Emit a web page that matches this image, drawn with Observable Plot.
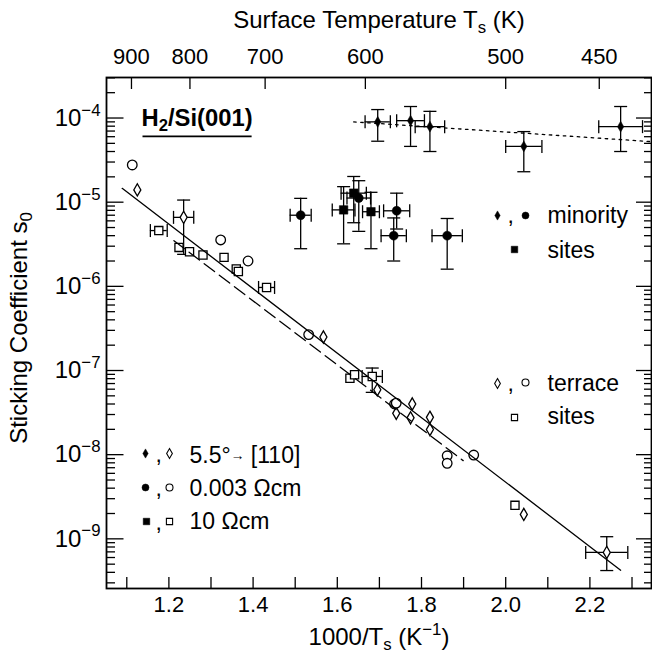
<!DOCTYPE html>
<html><head><meta charset="utf-8">
<script src="https://cdn.jsdelivr.net/npm/d3@7"></script>
<script src="https://cdn.jsdelivr.net/npm/@observablehq/plot@0.6"></script>
<style>html,body{margin:0;padding:0;background:#fff;} svg{display:block}</style>
</head><body><div id="chart"></div>
<script>
// ---------- DATA ----------
// axis ticks
const tempTicks = [900, 800, 700, 600, 500, 450];          // top axis (K)
const xLabelTicks = [1.2, 1.4, 1.6, 1.8, 2.0, 2.2];         // bottom labels
const xMinorTicks = [1.1, 1.2, 1.3, 1.4, 1.5, 1.6, 1.7, 1.8, 1.9, 2.0, 2.1, 2.2, 2.3];
const yMajorTicks = [1e-9, 1e-8, 1e-7, 1e-6, 1e-5, 1e-4];
const xDomain = [1.0518, 2.3463];
const yDomain = [2.57e-10, 3.03e-4];

// minority sites, 5.5° -> [110] (filled diamonds)
const mdX = [1.696, 1.774, 1.820, 2.043, 2.273];
const mdY = [9.0e-5, 9.3e-5, 7.9e-5, 4.6e-5, 7.9e-5];
const mdLo = [5.3e-5, 4.6e-5, 4.0e-5, 2.3e-5, 4.0e-5];
const mdHi = [1.26e-4, 1.37e-4, 1.2e-4, 6.9e-5, 1.37e-4];
const mdXe = [0.030, 0.033, 0.035, 0.043, 0.052];

// minority sites, 0.003 Ωcm (filled circles)
const mcX = [1.513, 1.651, 1.741, 1.734, 1.861];
const mcY = [7.0e-6, 1.12e-5, 7.9e-6, 4.0e-6, 4.0e-6];
const mcLo = [2.8e-6, 4.5e-6, 4.8e-6, 2.0e-6, 1.6e-6];
const mcHi = [1.11e-5, 1.8e-5, 1.28e-5, 6.5e-6, 6.4e-6];
const mcXe = [0.025, 0.028, 0.031, 0.030, 0.036];

// minority sites, 10 Ωcm (filled squares)
const msX = [1.615, 1.639, 1.680];
const msY = [8.1e-6, 1.28e-5, 7.7e-6];
const msLo = [3.2e-6, 5.7e-6, 2.8e-6];
const msHi = [1.53e-5, 2.02e-5, 1.31e-5];
const msXe = [0.027, 0.030, 0.020];

// terrace sites, 5.5° -> [110] (open diamonds)
const tdX = [1.125, 1.235, 1.567, 1.695, 1.740, 1.778, 1.774, 1.820, 1.820, 2.043, 2.240];
const tdY = [1.4e-5, 6.6e-6, 2.5e-7, 5.9e-8, 3.1e-8, 4.0e-8, 2.74e-8, 2.78e-8, 1.99e-8, 1.95e-9, 6.9e-10];
const tdLo = [null, 2.4e-6, null, null, null, null, null, null, null, null, 4.2e-10];
const tdHi = [null, 1.06e-5, null, null, null, null, null, null, null, null, 1.06e-9];
const tdXe = [null, 0.024, null, null, null, null, null, null, null, null, 0.050];

// terrace sites, 0.003 Ωcm (open circles)
const tcX = [1.113, 1.323, 1.388, 1.532, 1.736, 1.740, 1.861, 1.861, 1.924];
const tcY = [2.77e-5, 3.56e-6, 2.0e-6, 2.67e-7, 4.0e-8, 4.1e-8, 9.7e-9, 7.9e-9, 9.9e-9];

// terrace sites, 10 Ωcm (open squares)
const tsX = [1.176, 1.224, 1.249, 1.281, 1.331, 1.360, 1.365, 1.432, 1.630, 1.641, 1.683, 2.022];
const tsY = [4.6e-6, 2.9e-6, 2.58e-6, 2.36e-6, 2.21e-6, 1.61e-6, 1.5e-6, 9.7e-7, 8.1e-8, 8.9e-8, 8.5e-8, 2.5e-9];
const tsLo = [null, null, null, null, null, null, null, null, null, null, 5.5e-8, null];
const tsHi = [null, null, null, null, null, null, null, null, null, null, 1.07e-7, null];
const tsXe = [0.020, null, null, null, null, null, null, 0.019, null, null, 0.024, null];

// fit lines (end points)
const solidX = [1.089, 2.273], solidY = [1.46e-5, 4.24e-10];
const dashX = [1.212, 1.899], dashY = [3.49e-6, 8.5e-9];
const dotX = [1.639, 2.3463], dotY = [9.0e-5, 5.24e-5];

// texts
const topTitle = "Surface Temperature T_{s} (K)";
const xTitle = "1000/T_{s} (K^{−1})";
const yTitle = "Sticking Coefficient s_{0}";
const systemLabel = "H_{2}/Si(001)";

// ---------- FONT ----------
const FF = "'Liberation Sans', Arial, sans-serif";

// ---------- BUILD ----------
const W = 652, H = 657, mT = 77, mB = 69, mL = 106, mR = 1;
const innerW = W - mL - mR, innerH = H - mT - mB;

const pts = (X, Y) => X.map((x, i) => ({x, y: Y[i]}));
const errs = (X, Y, Lo, Hi, Xe) => X.map((x, i) => ({x, y: Y[i], lo: Lo[i], hi: Hi[i], xe: Xe[i]}));
const E = [
  ...errs(mdX, mdY, mdLo, mdHi, mdXe),
  ...errs(mcX, mcY, mcLo, mcHi, mcXe),
  ...errs(msX, msY, msLo, msHi, msXe),
  ...errs(tdX, tdY, tdLo, tdHi, tdXe),
  ...errs(tsX, tsY, tsLo, tsHi, tsXe)
];
const EV = E.filter(d => d.lo != null);
const EH = E.filter(d => d.xe != null);

const yMinorTicks = [];
for (let e = -10; e <= -4; e++) for (let m = 2; m <= 9; m++) {
  const v = m * Math.pow(10, e);
  if (v > yDomain[0] && v < yDomain[1]) yMinorTicks.push(v);
}

const capH = {draw(ctx, size) { const h = Math.sqrt(size / Math.PI); ctx.moveTo(-h, 0); ctx.lineTo(h, 0); }};
const capV = {draw(ctx, size) { const h = Math.sqrt(size / Math.PI); ctx.moveTo(0, -h); ctx.lineTo(0, h); }};

const SW = 1.3;
const ink = {stroke: "black", strokeWidth: SW};
const fsTick = 22, fsY = 24, fsTitle = 24, fsLeg = 23;

function legendSym(symbol, filled, r, dx, dy) {
  return Plot.dot([0], {frameAnchor: "top-left", dx, dy, symbol, r,
    fill: filled ? "black" : "none", stroke: "black", strokeWidth: filled ? 0.5 : 1.1});
}
function legendText(t, dx, dy, opts = {}) {
  return Plot.text([t], {frameAnchor: "top-left", dx, dy, textAnchor: "start", lineAnchor: "middle",
    fontSize: fsLeg, fill: "black", ...opts});
}

const chart = Plot.plot({
  width: W, height: H,
  marginTop: mT, marginBottom: mB, marginLeft: mL, marginRight: mR,
  style: {fontFamily: FF, color: "black", background: "white"},
  x: {type: "linear", domain: xDomain},
  y: {type: "log", domain: yDomain},
  marks: [
    // ticks (inward)
    Plot.tickX(xMinorTicks, {x: d => d, insetTop: innerH - 11, ...ink}),
    Plot.tickX(tempTicks.map(t => 1000 / t), {x: d => d, insetBottom: innerH - 12, ...ink}),
    Plot.tickY(yMajorTicks, {y: d => d, insetRight: innerW - 17.5, ...ink}),
    Plot.tickY(yMinorTicks, {y: d => d, insetRight: innerW - 9, ...ink}),
    Plot.tickY(yMajorTicks, {y: d => d, insetLeft: innerW - 15, ...ink}),
    Plot.tickY(yMinorTicks, {y: d => d, insetLeft: innerW - 7, ...ink}),
    Plot.frame({stroke: "black", strokeWidth: 1.8}),
    // axis labels
    Plot.axisX({anchor: "bottom", ticks: xLabelTicks, tickSize: 0, tickPadding: 8,
      tickFormat: d3.format(".1f"), label: null, fontSize: fsTick}),
    Plot.axisX({anchor: "top", ticks: tempTicks.map(t => 1000 / t), tickSize: 0, tickPadding: 14,
      tickFormat: v => String(Math.round(1000 / v)), label: null, fontSize: fsTick}),
    Plot.axisY({anchor: "left", ticks: yMajorTicks, tickSize: 0, tickPadding: 6,
      tickFormat: d => `10^{−${-Math.round(Math.log10(d))}}`, label: null, fontSize: fsY}),
    // titles
    Plot.text([topTitle], {frameAnchor: "top", dy: -57, lineAnchor: "middle", textAnchor: "middle", fontSize: fsTitle, fill: "black"}),
    Plot.text([xTitle], {frameAnchor: "bottom", dy: 49, lineAnchor: "middle", textAnchor: "middle", fontSize: fsTitle, fill: "black"}),
    Plot.text([yTitle], {frameAnchor: "left", dx: -87, dy: -5, rotate: -90, lineAnchor: "middle", textAnchor: "middle", fontSize: fsTitle, fill: "black"}),
    // error bars
    Plot.ruleX(EV, {x: "x", y1: "lo", y2: "hi", ...ink}),
    Plot.dot(EV, {x: "x", y: "lo", symbol: capH, r: 6.5, fill: "none", ...ink}),
    Plot.dot(EV, {x: "x", y: "hi", symbol: capH, r: 6.5, fill: "none", ...ink}),
    Plot.ruleY(EH, {y: "y", x1: d => d.x - d.xe, x2: d => d.x + d.xe, ...ink}),
    Plot.dot(EH, {x: d => d.x - d.xe, y: "y", symbol: capV, r: 6.5, fill: "none", ...ink}),
    Plot.dot(EH, {x: d => d.x + d.xe, y: "y", symbol: capV, r: 6.5, fill: "none", ...ink}),
    // open markers (terrace)
    Plot.dot(pts(tdX, tdY), {x: "x", y: "y", symbol: "diamond", r: 3.7, fill: "white", ...ink}),
    Plot.dot(pts(tcX, tcY), {x: "x", y: "y", symbol: "circle", r: 4.8, fill: "white", ...ink}),
    Plot.dot(pts(tsX, tsY), {x: "x", y: "y", symbol: "square", r: 4.6, fill: "white", ...ink}),
    // filled markers (minority)
    Plot.dot(pts(mdX, mdY), {x: "x", y: "y", symbol: "diamond", r: 3.3, fill: "black", stroke: "black", strokeWidth: 0.5}),
    Plot.dot(pts(mcX, mcY), {x: "x", y: "y", symbol: "circle", r: 4.5, fill: "black", stroke: "black", strokeWidth: 0.5}),
    Plot.dot(pts(msX, msY), {x: "x", y: "y", symbol: "square", r: 4.8, fill: "black", stroke: "black", strokeWidth: 0.5}),
    // fit lines
    Plot.line(pts(solidX, solidY), {x: "x", y: "y", ...ink}),
    Plot.line(pts(dashX, dashY), {x: "x", y: "y", strokeDasharray: "13,6", ...ink}),
    Plot.line(pts(dotX, dotY), {x: "x", y: "y", strokeDasharray: "2.5,4.5", ...ink}),
    // system label
    Plot.text([systemLabel], {frameAnchor: "top-left", dx: 35, dy: 41, textAnchor: "start", lineAnchor: "middle",
      fontSize: 23.8, fontWeight: "bold", fill: "black", className: "syslabel"}),
    // legend: minority sites
    legendSym("diamond", true, 2.8, 391, 138),
    legendText(",", 401, 138),
    legendSym("circle", true, 3.5, 419, 138),
    legendText("minority", 441, 138),
    legendSym("square", true, 3.7, 408, 172),
    legendText("sites", 441, 173),
    // legend: terrace sites
    legendSym("diamond", false, 3.0, 391, 306),
    legendText(",", 401, 306),
    legendSym("circle", false, 3.5, 419, 305),
    legendText("terrace", 441, 306),
    legendSym("square", false, 3.5, 408, 340),
    legendText("sites", 441, 339),
    // legend: samples
    legendSym("diamond", true, 2.8, 39, 376),
    legendText(",", 49, 377),
    legendSym("diamond", false, 3.0, 63, 376),
    legendText("5.5°~{→} [110]", 83, 378),
    legendSym("circle", true, 3.5, 39, 410),
    legendText(",", 49, 411),
    legendSym("circle", false, 3.5, 63, 410),
    legendText("0.003 Ωcm", 83, 411),
    legendSym("square", true, 3.7, 40, 444),
    legendText(",", 49, 445),
    legendSym("square", false, 3.5, 63, 444),
    legendText("10 Ωcm", 83, 444)
  ]
});
document.getElementById("chart").append(chart);

// rich text: _{sub} ^{sup} ~{small}
function rich(svgNode) {
  d3.select(svgNode).selectAll("text").each(function () {
    const s = this.textContent;
    if (!/[_^~]\{/.test(s)) return;
    const fs = parseFloat(getComputedStyle(this).fontSize);
    const parts = s.split(/([_^~]\{[^}]*\})/).filter(p => p !== "");
    this.textContent = "";
    let cur = 0;
    for (const p of parts) {
      let off = 0, size = null, txt = p;
      const m = /^([_^~])\{(.*)\}$/.exec(p);
      if (m) {
        txt = m[2];
        size = (m[1] === "~" ? 0.6 : 0.7) * fs;
        off = m[1] === "_" ? 0.22 * fs : m[1] === "^" ? -0.42 * fs : -0.12 * fs;
      }
      const t = d3.select(this).append("tspan").text(txt);
      if (off - cur) t.attr("dy", off - cur);
      if (size) t.attr("font-size", size);
      cur = off;
    }
  });
}
rich(chart);

// underline for system label
const sys = chart.querySelector(".syslabel text");
if (sys) {
  const r = sys.getBoundingClientRect(), s0 = chart.getBoundingClientRect();
  d3.select(chart).append("line")
    .attr("x1", r.left - s0.left + 1).attr("x2", r.right - s0.left - 1)
    .attr("y1", r.bottom - s0.top + 1).attr("y2", r.bottom - s0.top + 1)
    .attr("stroke", "black").attr("stroke-width", 1.6);
}
</script></body></html>
